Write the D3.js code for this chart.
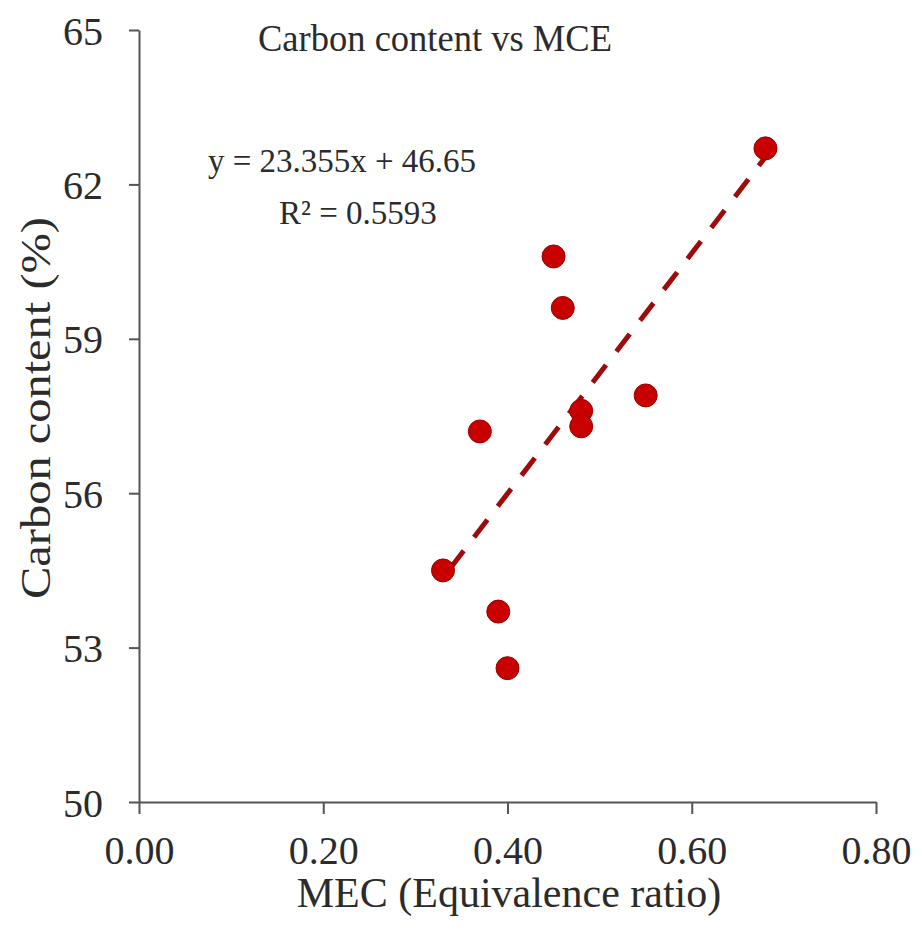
<!DOCTYPE html>
<html><head><meta charset="utf-8">
<script src="https://cdn.jsdelivr.net/npm/d3@7"></script>
<style>
body{margin:0;background:#fff;}
svg{display:block;font-family:"Liberation Serif","Times New Roman",serif;}
</style></head>
<body><svg id="c" width="922" height="932"></svg>
<script>
const mce = [0.68, 0.45, 0.46, 0.55, 0.48, 0.48, 0.37, 0.33, 0.39, 0.40];
const carbon = [62.7, 60.6, 59.6, 57.9, 57.6, 57.3, 57.2, 54.5, 53.7, 52.6];
const xTicks = [0, 0.2, 0.4, 0.6, 0.8];
const yTicks = [50, 53, 56, 59, 62, 65];
const slope = 23.355, intercept = 46.65;
const title = "Carbon content vs MCE";
const xLabel = "MEC (Equivalence ratio)";
const yLabel = "Carbon content (%)";
const eqText = "y = 23.355x + 46.65";
const r2Text = "R² = 0.5593";

const svg = d3.select("#c");
const x = d3.scaleLinear().domain([0, 0.8]).range([139, 876]);
const y = d3.scaleLinear().domain([50, 65]).range([802, 30]);
const axisColor = "#555";
const textColor = "#2b2b2b";
const font = '"Liberation Serif","Times New Roman",serif';

const gx = svg.append("g").attr("transform", `translate(0,${y(50)})`)
  .call(d3.axisBottom(x).tickValues(xTicks).tickFormat(d3.format(".2f")).tickSize(12).tickSizeOuter(0).tickPadding(22));
const gy = svg.append("g").attr("transform", `translate(${x(0)},0)`)
  .call(d3.axisLeft(y).tickValues(yTicks).tickFormat(d3.format("d")).tickSize(10).tickSizeOuter(0).tickPadding(26));
[gx, gy].forEach(g => {
  g.selectAll("path,line").attr("stroke", axisColor).attr("stroke-width", 2);
  g.selectAll("text").attr("fill", textColor).attr("font-size", 40).attr("font-family", font);
});
gy.selectAll("text").attr("dy", "0.35em");

// trendline
const xmin = d3.min(mce), xmax = d3.max(mce);
svg.append("line")
  .attr("x1", x(xmin)).attr("y1", y(slope * xmin + intercept))
  .attr("x2", x(xmax)).attr("y2", y(slope * xmax + intercept))
  .attr("stroke", "#9e0b0b").attr("stroke-width", 5)
  .attr("stroke-dasharray", "22,17").attr("stroke-dashoffset", -12);

// points
svg.append("g").selectAll("circle").data(mce.map((v, i) => [v, carbon[i]]))
  .join("circle")
  .attr("cx", d => x(d[0])).attr("cy", d => y(d[1])).attr("r", 11.5)
  .attr("fill", "#c80000").attr("stroke", "#9a0000").attr("stroke-width", 1);

// texts
svg.append("text").attr("x", 435).attr("y", 51).attr("text-anchor", "middle")
  .attr("font-size", 38).attr("textLength", 354).attr("lengthAdjust", "spacingAndGlyphs")
  .attr("fill", textColor).text(title);
svg.append("text").attr("x", 342).attr("y", 172).attr("text-anchor", "middle")
  .attr("font-size", 33).attr("fill", textColor).text(eqText);
svg.append("text").attr("x", 358).attr("y", 224).attr("text-anchor", "middle")
  .attr("font-size", 33).attr("fill", textColor).text(r2Text);
svg.append("text").attr("x", 509).attr("y", 907).attr("text-anchor", "middle")
  .attr("font-size", 42).attr("fill", textColor).text(xLabel);
svg.append("text").attr("transform", "translate(50,408) rotate(-90)").attr("text-anchor", "middle")
  .attr("font-size", 42).attr("textLength", 382).attr("lengthAdjust", "spacingAndGlyphs")
  .attr("fill", textColor).text(yLabel);
</script></body></html>
